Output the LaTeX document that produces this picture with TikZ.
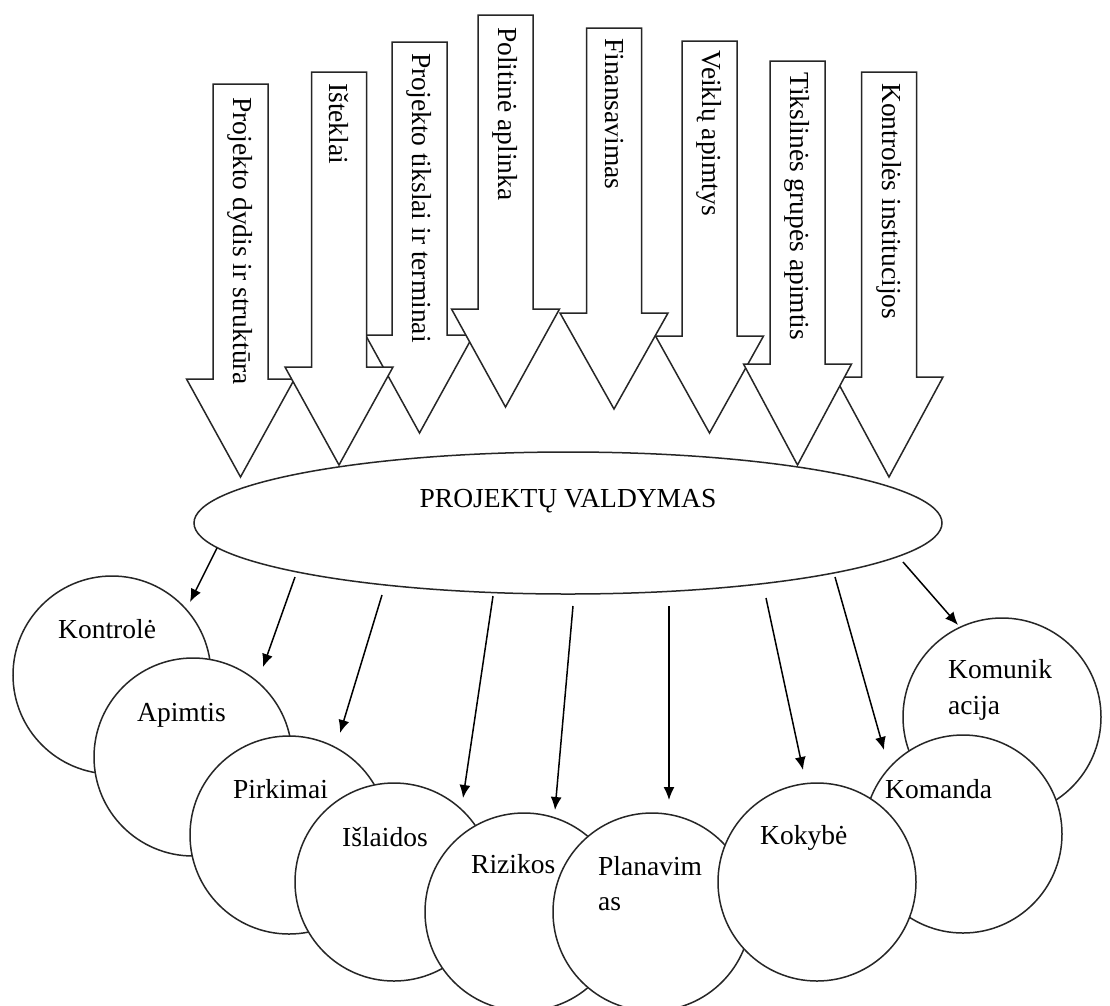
\documentclass[tikz,border=0pt]{standalone}
\usepackage{fontspec}
\setmainfont{Liberation Serif}
\usetikzlibrary{arrows.meta,shapes.geometric}
\tikzset{
  blk/.style={draw=black!85, line width=1.5pt, fill=white, line join=miter},
  lbl/.style={inner sep=0pt, font=\fontsize{27.5}{33}\selectfont},
  vlbl/.style={lbl, rotate=-90, anchor=west},
  circ/.style={draw=black!85, line width=1.5pt, fill=white, circle, minimum size=198pt, inner sep=0pt},
  conn/.style={line width=1.5pt, -{Latex[length=13pt,width=11pt]}},
}
\newcommand\myBlockArrow[7]{%
  \draw[blk] ({#2-27.5},#3) -- ({#2+27.5},#3) -- ({#2+27.5},#4) -- ({#2+54},#4) -- (#2,#5) -- ({#2-54},#4) -- ({#2-27.5},#4) -- cycle;
  \node[vlbl] (#1) at (#2,#6) {#7};
}
\begin{document}
\begin{tikzpicture}[x=1pt,y=-1pt]
\useasboundingbox[fill=white] (0,0) rectangle (1110,1005);
% block arrows (back to front)
\myBlockArrow{a3}{419.5}{42}{335}{433}{53}{Projekto tikslai ir terminai}
\myBlockArrow{a6}{709.5}{41}{336}{433}{50}{Veiklų apimtys}
\myBlockArrow{a8}{889}{72}{377}{477}{83}{Kontrolės institucijos}
\myBlockArrow{a1}{240.5}{84}{379}{477}{97}{Projekto dydis ir struktūra}
\myBlockArrow{a2}{339}{72}{367}{465}{83}{Išteklai}
\myBlockArrow{a4}{505.5}{15}{309}{407}{27}{Politinė aplinka}
\myBlockArrow{a5}{614}{28}{313}{409}{38}{Finansavimas}
\myBlockArrow{a7}{797.5}{61}{364}{465}{72}{Tikslinės grupės apimtis}
% central ellipse
\node[ellipse, draw=black!85, line width=1.5pt, fill=white, minimum width=748pt, minimum height=142pt, inner sep=0pt] (pm) at (568,523) {};
\node[lbl, anchor=base] (pmt) at (568,507) {PROJEKTŲ VALDYMAS};
% connector end points
\coordinate (s1) at (217,548); \coordinate (t1) at (190,602);
\coordinate (s2) at (295,577); \coordinate (t2) at (263,667);
\coordinate (s3) at (382,595); \coordinate (t3) at (340,733);
\coordinate (s4) at (493,596); \coordinate (t4) at (463,798);
\coordinate (s5) at (573,606); \coordinate (t5) at (555,810);
\coordinate (s6) at (669,606); \coordinate (t6) at (669,800);
\coordinate (s7) at (766,598); \coordinate (t7) at (803,770);
\coordinate (s8) at (835,577); \coordinate (t8) at (884,750);
\coordinate (s9) at (903,562); \coordinate (t9) at (958,625);
\foreach \i in {1,...,9} {\draw[conn] (s\i) -- (t\i);}
% circles (back to front)
\node[circ] (c1) at (112,675) {};
\node[lbl, anchor=base west] (c1t) at (58,638) {Kontrolė};
\node[circ] (c2) at (193,757) {};
\node[lbl, anchor=base west] (c2t) at (137,721) {Apimtis};
\node[circ] (c3) at (289,835) {};
\node[lbl, anchor=base west] (c3t) at (233,798) {Pirkimai};
\node[circ] (c4) at (394,882) {};
\node[lbl, anchor=base west] (c4t) at (342,846) {Išlaidos};
\node[circ] (c5) at (524,912) {};
\node[lbl, anchor=base west] (c5t) at (471,873) {Rizikos};
\node[circ] (c6) at (652,912) {};
\node[lbl, anchor=base west] (c6t) at (598,875) {Planavim};
\node[lbl, anchor=base west] (c6u) at (598,910) {as};
\node[circ] (c9) at (1002,717) {};
\node[lbl, anchor=base west] (c9t) at (948,678) {Komunik};
\node[lbl, anchor=base west] (c9u) at (948,714) {acija};
\node[circ] (c8) at (963,834) {};
\node[lbl, anchor=base west] (c8t) at (885,798) {Komanda};
\node[circ] (c7) at (817,882) {};
\node[lbl, anchor=base west] (c7t) at (760,844) {Kokybė};
\end{tikzpicture}
\end{document}
